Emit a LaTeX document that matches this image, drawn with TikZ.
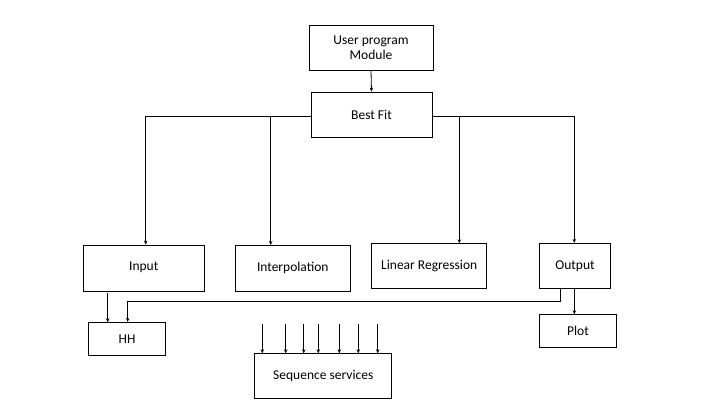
\documentclass[tikz,border=0pt]{standalone}
\usepackage{fontspec}
\setmainfont{Carlito}
\usetikzlibrary{arrows.meta}
\begin{document}
\begin{tikzpicture}[x=1pt,y=-1pt,
  box/.style={draw,line width=0.8pt,inner sep=0pt,font=\fontsize{13.5}{15.5}\selectfont,align=center},
  arr/.style={line width=0.8pt,-{Stealth[length=4pt,width=3.5pt]}},
  ln/.style={line width=0.8pt}]
\useasboundingbox (0,0) rectangle (720,405);
\node[box,minimum width=124pt,minimum height=45pt] (up) at (371,47.5) {User program\\Module};
\node[box,minimum width=121pt,minimum height=45pt] (bf) at (371.5,114.5) {Best Fit};
\node[box,minimum width=121pt,minimum height=46pt] (in) at (143.7,268) {\raisebox{3pt}{Input}};
\node[box,minimum width=115pt,minimum height=46pt] (ip) at (292.8,268) {Interpolation};
\node[box,minimum width=115pt,minimum height=45pt] (lr) at (429.2,265.8) {Linear Regression};
\node[box,minimum width=71pt,minimum height=45pt] (op) at (575,265.8) {\raisebox{2pt}{Output}};
\node[box,minimum width=77pt,minimum height=33pt] (pl) at (578,330.8) {Plot};
\node[box,minimum width=77pt,minimum height=33pt] (hh) at (127,338.8) {HH};
\node[box,minimum width=137pt,minimum height=45pt] (sq) at (323.3,375.8) {Sequence services};
% top
\draw[arr] (up.south) -- (bf.north);
\coordinate (lj) at (145.7,116);
\coordinate (rj) at (574.3,116);
\draw[arr] (bf.west |- lj) -- (lj) -- (lj |- in.north);
\draw[arr] (270.7,116) -- (270.7,245);
\draw[arr] (bf.east |- rj) -- (rj) -- (rj |- op.north);
\draw[arr] (459.3,116) -- (459.3,243.3);
% lower
\draw[arr] (107.7,293.3) -- (107.7,322.3);
\coordinate (oj) at (560.7,301);
\coordinate (hj) at (127.7,301);
\draw[arr] (oj |- op.south) -- (oj) -- (hj) -- (hj |- hh.north);
\draw[arr] (574.3,288.3) -- (574.3,314.3);
\foreach \x in {262.3,285.7,303.7,318.3,339.3,358.3,377.7}
  \draw[arr] (\x,324.3) -- (\x,353.3);
\end{tikzpicture}
\end{document}
